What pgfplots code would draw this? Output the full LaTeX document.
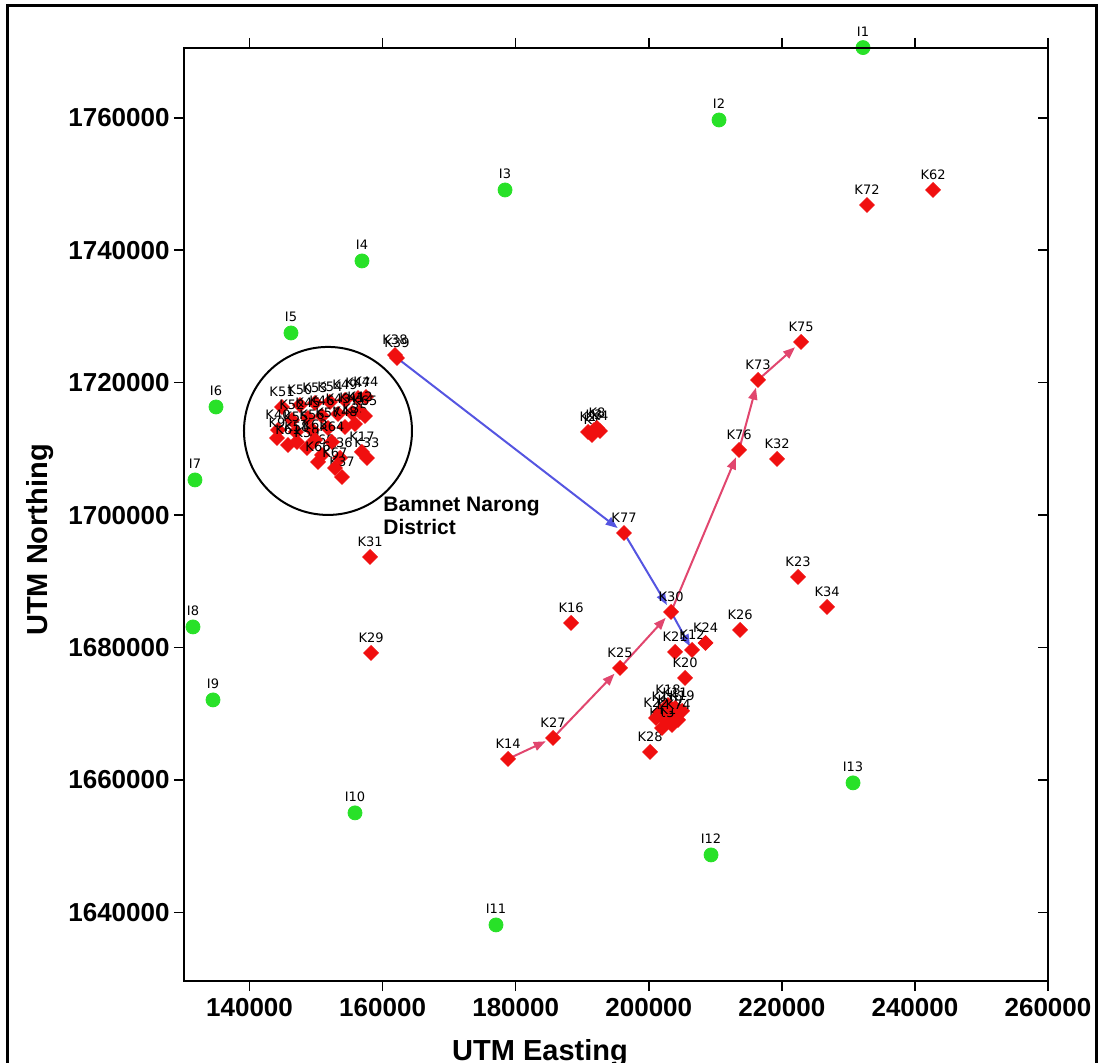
\documentclass[border=0pt]{standalone}
\usepackage{pgfplots}
\pgfplotsset{compat=1.18}
\usepackage{pgfplotstable}
\usepackage{fontspec}
\setmainfont{Liberation Sans}
\newfontfamily\lblfont{DejaVu Sans}
\usetikzlibrary{arrows.meta}
\definecolor{mgreen}{RGB}{40,225,40}
\definecolor{mred}{RGB}{240,15,15}
\definecolor{mblue}{RGB}{85,85,225}
\definecolor{mpink}{RGB}{225,70,110}

\pgfplotstableread{
x y label
232200 1770600 I1
210560 1759670 I2
178400 1749100 I3
156900 1738380 I4
146230 1727500 I5
134960 1716330 I6
131800 1705310 I7
131500 1683110 I8
134510 1672090 I9
155850 1655030 I10
177040 1638110 I11
209360 1648680 I12
230700 1659560 I13
}\greentab

\pgfplotstableread{
x y label
232800 1746830 K72
242730 1749100 K62
222890 1726150 K75
216420 1720410 K73
213570 1709840 K76
219280 1708480 K32
196280 1697300 K77
222430 1690660 K23
226790 1686130 K34
203350 1685380 K30
213720 1682660 K26
188320 1683720 K16
158260 1679180 K29
158110 1693680 K31
203950 1679340 K21
206500 1679640 K12
208530 1680700 K24
205450 1675410 K20
195680 1676920 K25
185610 1666350 K27
178850 1663180 K14
200190 1664240 K28
161860 1724180 K38
162160 1723730 K39
190870 1712560 K2
191770 1712860 K3
192670 1712710 K4
191470 1712100 K7
192220 1713160 K8
201690 1670280 K1
202440 1669070 K6
203200 1669820 K10
203950 1670880 K11
203500 1668310 K13
201990 1667860 K15
202890 1671330 K18
205000 1670430 K19
201090 1669370 K22
204400 1669070 K74
}\redtab

\pgfplotstableread{
x y label
144880 1716330 K51
147580 1716630 K50
149840 1716940 K53
152090 1717090 K54
154350 1717390 K49
156300 1717690 K47
157500 1717840 K44
146380 1714370 K52
148790 1714670 K45
150890 1714970 K46
153300 1715280 K43
155400 1715430 K41
156600 1715580 K42
144280 1712860 K40
146980 1712560 K55
149390 1712860 K56
151790 1713160 K57
154350 1713310 K48
155850 1713760 K35
144130 1711650 K9
147130 1711050 K58
148640 1710140 K59
150890 1709080 K60
153600 1708630 K36
157650 1708630 K33
153900 1705760 K37
145780 1710590 K61
149840 1711350 K63
152390 1711050 K64
156900 1709540 K17
157350 1714970 K65
150290 1708030 K66
152840 1707120 K67
}\clustertab

\pgfplotsset{
  lbl/.style={point meta=explicit symbolic, nodes near coords={\pgfplotspointmeta},
    every node near coord/.append style={text=black, font=\lblfont\fontsize{6.5bp}{7bp}\selectfont, inner sep=0pt, anchor=south, yshift=#1}},
}

\begin{document}
\begin{tikzpicture}
\path[use as bounding box] (0,0) rectangle (549.5bp,531.5bp);
\draw[line width=1.5bp] (3.5bp,-2bp) -- (3.5bp,528.5bp) -- (548bp,528.5bp) -- (548bp,-2bp);
\begin{axis}[
  at={(92bp,41bp)}, anchor=south west, scale only axis,
  width=432bp, height=466.5bp,
  xmin=130150, xmax=260000, ymin=1629640, ymax=1770540,
  xtick={140000,160000,180000,200000,220000,240000,260000},
  ytick={1640000,1660000,1680000,1700000,1720000,1740000,1760000},
  xtick pos=both, ytick pos=left, xticklabel pos=lower, yticklabel pos=left,
  tick align=outside, major tick length=5bp,
  scaled ticks=false,
  xticklabel={\pgfmathprintnumber[fixed, precision=0, 1000 sep={}, assume math mode=true]{\tick}},
  yticklabel={\pgfmathprintnumber[fixed, precision=0, 1000 sep={}, assume math mode=true]{\tick}},
  ticklabel style={font=\fontsize{13bp}{15bp}\selectfont\bfseries},
  yticklabel style={inner sep=2bp},
  axis line style={line width=1bp},
  tick style={line width=0.8bp, black},
  clip=false,
]
% blue path
\addplot[mblue, line width=1bp, -{Triangle[length=6bp,width=4.5bp]}, shorten >=4bp] coordinates {(162160,1723730) (196280,1697300)};
\addplot[mblue, line width=1bp, -{Triangle[length=6bp,width=4.5bp]}, shorten >=4bp] coordinates {(196280,1697300) (203350,1685380)};
\addplot[mblue, line width=1bp, -{Triangle[length=6bp,width=4.5bp]}, shorten >=2bp] coordinates {(203350,1685380) (206500,1679640)};
% pink path
\addplot[mpink, line width=1bp, -{Triangle[length=6bp,width=4.5bp]}, shorten >=4bp] coordinates {(178850,1663180) (185610,1666350)};
\addplot[mpink, line width=1bp, -{Triangle[length=6bp,width=4.5bp]}, shorten >=4bp] coordinates {(185610,1666350) (195680,1676920)};
\addplot[mpink, line width=1bp, -{Triangle[length=6bp,width=4.5bp]}, shorten >=4bp] coordinates {(195680,1676920) (203350,1685380)};
\addplot[mpink, line width=1bp, -{Triangle[length=6bp,width=4.5bp]}, shorten >=4bp] coordinates {(203350,1685380) (213570,1709840)};
\addplot[mpink, line width=1bp, -{Triangle[length=6bp,width=4.5bp]}, shorten >=4bp] coordinates {(213570,1709840) (216420,1720410)};
\addplot[mpink, line width=1bp, -{Triangle[length=6bp,width=4.5bp]}, shorten >=4bp] coordinates {(216420,1720410) (222890,1726150)};
% green sites
\addplot[only marks, mark=*, mark size=3.5bp, mark options={fill=mgreen, draw=mgreen}, lbl=5.5bp]
  table[meta=label] {\greentab};
% red sites
\addplot[only marks, mark=square*, mark size=2.6bp, mark options={rotate=45, fill=mred, draw=mred}, lbl=5bp]
  table[meta=label] {\redtab};
\addplot[only marks, mark=square*, mark size=2.6bp, mark options={rotate=45, fill=mred, draw=mred}, lbl=5bp]
  table[meta=label] {\clustertab};
\draw[line width=1bp] (axis cs:151790,1712710) circle[radius=42bp];
\node[anchor=north west, align=left, inner sep=0pt, font=\fontsize{10.5bp}{11.5bp}\selectfont\bfseries] at (axis cs:160060,1702740) {Bamnet Narong\\District};
\end{axis}
\begin{axis}[
  at={(92bp,41bp)}, anchor=south west, scale only axis,
  width=432bp, height=466.5bp,
  xmin=130150, xmax=260000, ymin=1629640, ymax=1770540,
  scaled ticks=false,
  xtick=\empty,
  ytick={1640000,1660000,1680000,1700000,1720000,1740000,1760000},
  ytick pos=right, yticklabels={}, tick align=inside, major tick length=5bp,
  axis line style={line width=1bp},
  tick style={line width=0.8bp, black},
]
\end{axis}
\node[anchor=base, font=\fontsize{14.5bp}{16bp}\selectfont\bfseries] at (270bp,1.5bp) {UTM Easting};
\node[rotate=90, anchor=base, font=\fontsize{14.5bp}{16bp}\selectfont\bfseries] at (23.5bp,261.5bp) {UTM Northing};
\end{tikzpicture}
\end{document}
